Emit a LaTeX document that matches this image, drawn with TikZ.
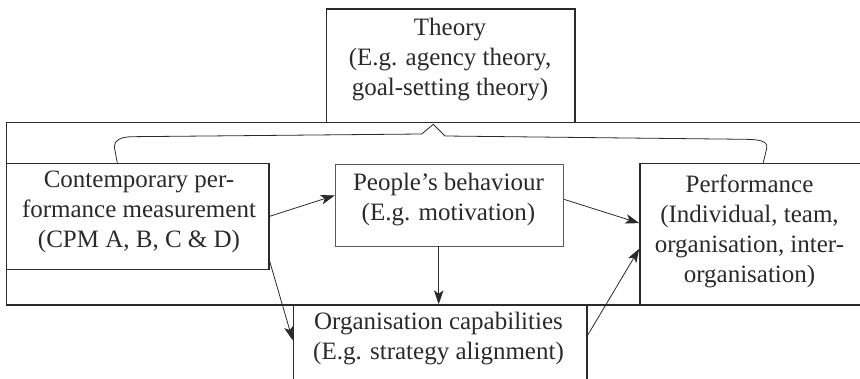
\documentclass[tikz,border=0pt]{standalone}
\usepackage{fontspec}
\setmainfont{Liberation Serif}
\usetikzlibrary{arrows.meta,calc}
\definecolor{ink}{HTML}{2A2A2A}
\definecolor{inkl}{HTML}{5A5A5A}
\tikzset{
  boxthick/.style={draw=ink, line width=1.3pt, rectangle, inner sep=0pt, anchor=north west},
  boxthin/.style={draw=inkl, line width=0.8pt, rectangle, inner sep=0pt, anchor=north west},
  txt/.style={text=ink, align=center, inner sep=0pt, font=\fontsize{25}{30}\selectfont},
  arr/.style={draw=ink, line width=0.8pt, -{Stealth[length=14pt,width=9.5pt,inset=3.5pt]}},
  brace/.style={draw=ink, line width=0.8pt, line join=round}
}
\begin{document}
\begin{tikzpicture}[x=1pt,y=-1pt]
\useasboundingbox (0,0) rectangle (860,379);
\clip (0,0) rectangle (860,379);
% frames
\node[boxthick, minimum width=248.6pt, minimum height=113.4pt] (theory) at (325.7,8.3) {};
\node[boxthick, minimum width=870pt, minimum height=182.6pt] (frame) at (5.7,121.7) {};
\node[boxthick, minimum width=262.6pt, minimum height=106pt] (cpm) at (5.7,162.7) {};
\node[boxthin, minimum width=228.6pt, minimum height=81.4pt] (people) at (334.8,164.3) {};
\node[boxthick, minimum width=240pt, minimum height=141.6pt] (perf) at (639.3,162.7) {};
\node[boxthick, minimum width=293.6pt, minimum height=100pt] (org) at (292.7,304.3) {};
% texts
\node[txt] (theorytxt) at (450,60) {Theory\\(E.g. agency theory,\\goal-setting theory)};
\node[txt] (cpmtxt) at (139,212) {Contemporary per-\\formance measurement\\(CPM A, B, C \& D)};
\node[txt] (peopletxt) at (448.5,199.5) {People’s behaviour\\(E.g. motivation)};
\node[txt] (perftxt) at (749.5,231.5) {Performance\\(Individual, team,\\organisation, inter-\\organisation)};
\node[txt] (orgtxt) at (438.5,338.5) {Organisation capabilities\\(E.g. strategy alignment)};
% bracket
\coordinate (bl) at (117.3,162.7);
\coordinate (br) at (763.3,162.7);
\draw[brace] (bl) -- (114.3,146.7) .. controls (114.3,140) and (121,137) .. (131.7,136.7)
  -- (421.7,134) -- (433.3,124.3) -- (445,136) -- (745,139.3)
  .. controls (760,139.5) and (768,141) .. (766.7,148.3) -- (br);
% arrows
\draw[arr] (cpm.east) -- ($(people.west)+(0,-10)$);
\draw[arr] ($(people.east)+(0,-6)$) -- ($(perf.west)+(0,-11)$);
\draw[arr] ($(people.south)+(-10.8,0)$) coordinate (pb) -- (pb |- org.north);
\draw[arr] ($(cpm.south east)+(0,-9)$) -- ($(org.north west)+(0,36)$);
\draw[arr] ($(org.north east)+(0,31)$) -- ($(perf.west)+(0,14.5)$);
\end{tikzpicture}
\end{document}
